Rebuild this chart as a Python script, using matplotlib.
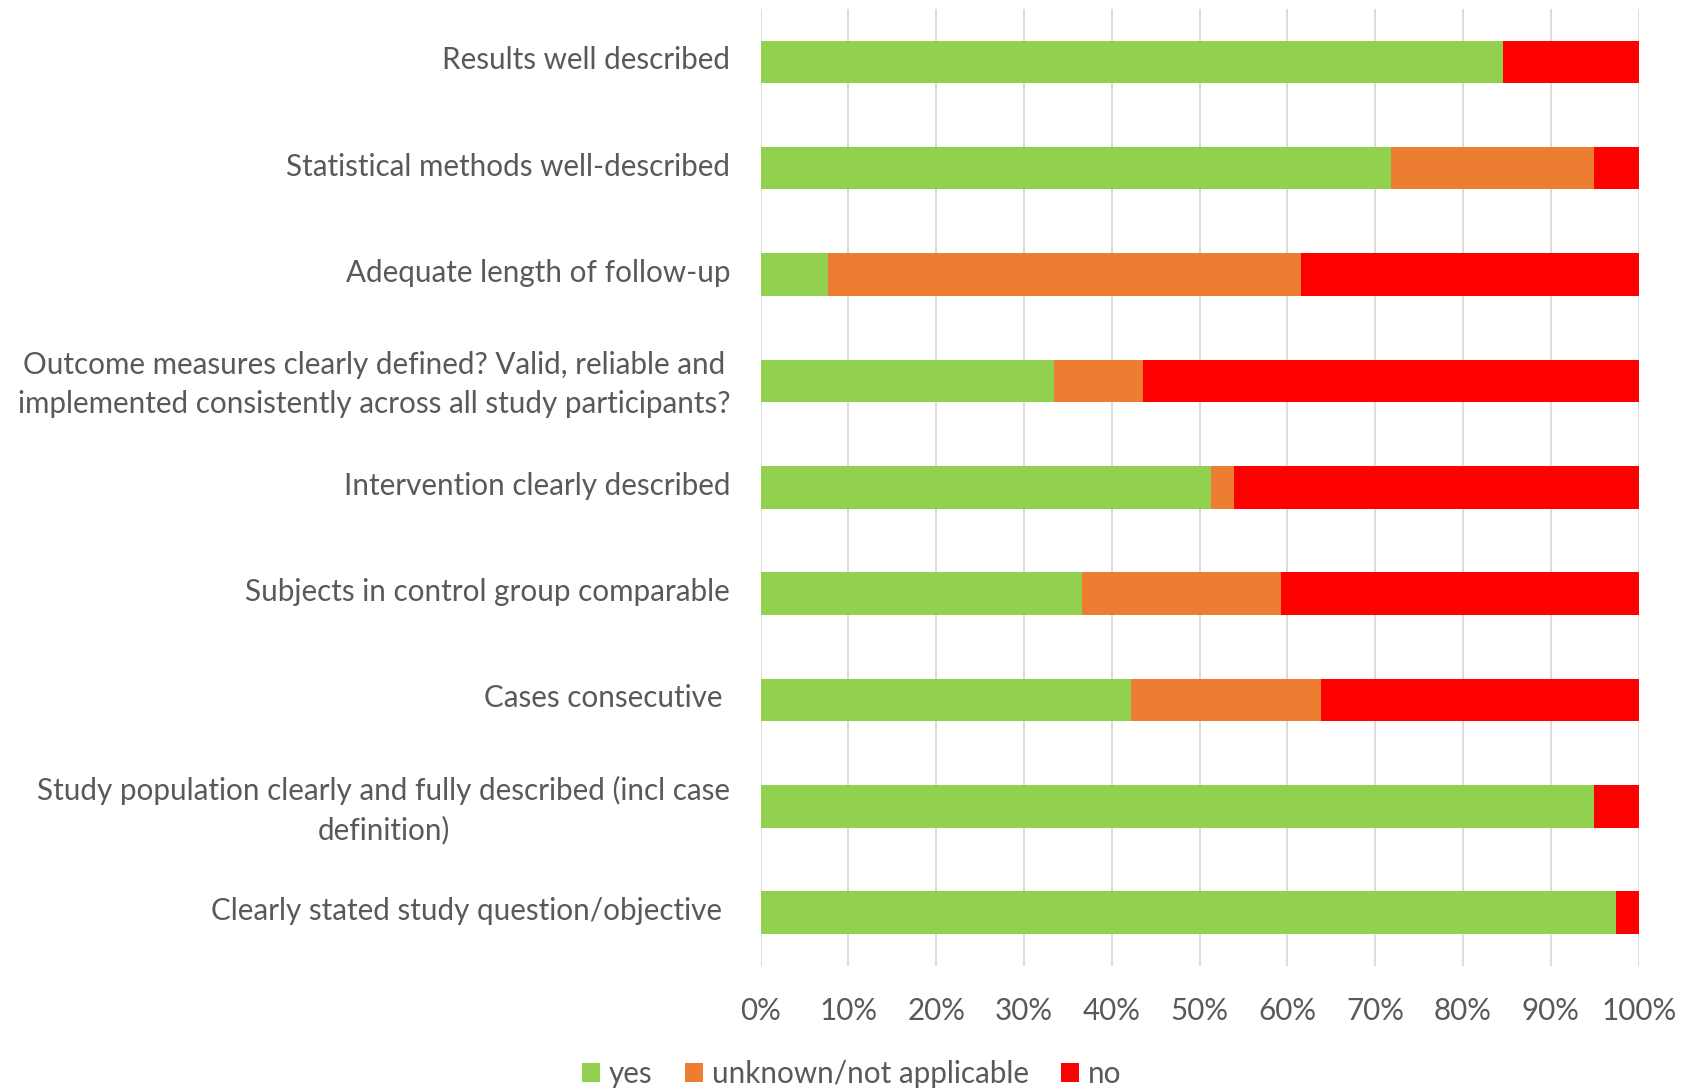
import matplotlib.pyplot as plt
import matplotlib.transforms as mtransforms
import numpy as np

# Quality assessment items, listed bottom to top as drawn on the y axis
items = [
    "Clearly stated study question/objective ",
    "Study population clearly and fully described (incl case\ndefinition)",
    "Cases consecutive ",
    "Subjects in control group comparable",
    "Intervention clearly described",
    "Outcome measures clearly defined? Valid, reliable and\nimplemented consistently across all study participants?",
    "Adequate length of follow-up",
    "Statistical methods well-described",
    "Results well described",
]

# Percent of studies per answer
yes = [97.4, 94.9, 42.2, 36.6, 51.3, 33.4, 7.7, 71.8, 84.6]
unknown = [0.0, 0.0, 21.6, 22.7, 2.6, 10.2, 53.8, 23.1, 0.0]
no = [100 - a - b for a, b in zip(yes, unknown)]

colors = {"yes": "#92d050", "unknown/not applicable": "#ed7d31", "no": "#ff0000"}
text_color = "#595959"

plt.rcParams["font.family"] = ["Lato", "DejaVu Sans"]

fig = plt.figure(figsize=(16.87, 10.9), dpi=100)
ax = fig.add_axes([0.4509, 0.1138, 0.5204, 0.8783])

y = np.arange(len(items))
left = np.zeros(len(items))
for name, vals in [("yes", yes), ("unknown/not applicable", unknown), ("no", no)]:
    ax.barh(y, vals, left=left, height=0.4, color=colors[name], label=name, zorder=3)
    left = left + np.array(vals)

ax.set_xlim(0, 100)
ax.set_ylim(-0.5, len(items) - 0.5)
ax.set_xticks(np.arange(0, 101, 10))
ax.set_xticklabels(["{}%".format(v) for v in range(0, 101, 10)])
ax.set_yticks(y)
ax.set_yticklabels(items, multialignment="center", linespacing=1.45)
ax.grid(axis="x", color="#d9d9d9", linewidth=1.3, zorder=0)
for s in ax.spines.values():
    s.set_visible(False)
ax.tick_params(axis="both", length=0, colors=text_color, labelsize=21.3)
ax.tick_params(axis="y", pad=22)
ax.tick_params(axis="x", pad=22)

# nudge category labels up a little so they sit level with the bars
nudge = mtransforms.ScaledTranslation(0, 3 / 72, fig.dpi_scale_trans)
for lab in ax.get_yticklabels():
    lab.set_transform(lab.get_transform() + nudge)

fig.legend(loc="center", bbox_to_anchor=(0.505, 0.015), ncol=3, frameon=False,
           fontsize=21.3, labelcolor=text_color, handlelength=0.6, handleheight=0.6,
           handletextpad=0.3, columnspacing=1.1)

fig.savefig("out.png", dpi=100)
